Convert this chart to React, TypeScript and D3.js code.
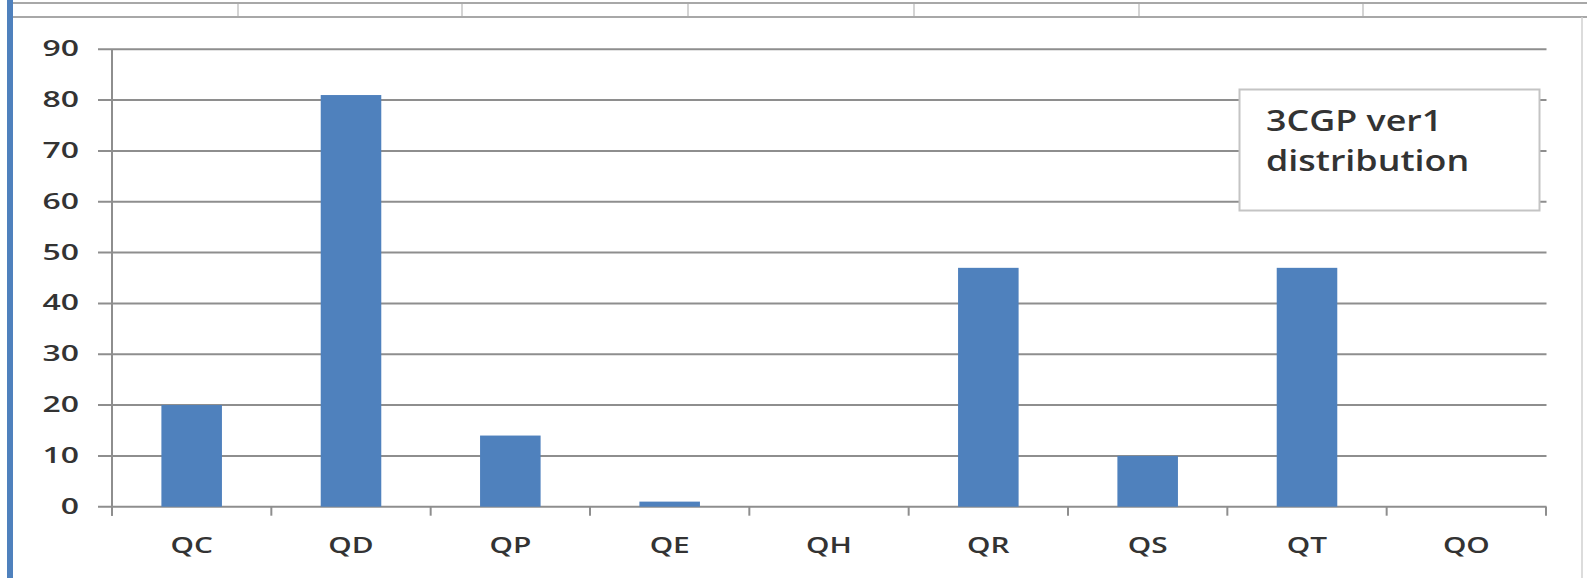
import React from "react";
import * as d3 from "d3";

const categories = ["QC", "QD", "QP", "QE", "QH", "QR", "QS", "QT", "QO"];
const values = [20, 81, 14, 1, 0, 47, 10, 47, 0];
const yTicks = [0, 10, 20, 30, 40, 50, 60, 70, 80, 90];
const legendLines = ["3CGP ver1", "distribution"];
const topDividers = [238, 462, 688, 914, 1139, 1363];

const W = 1587;
const H = 578;
const BLUE = "#4f81bd";
const GRID = "#8e8e8e";
const TEXT = "#333333";
const FONT = "'Open Sans', 'DejaVu Sans', sans-serif";

export default function App() {
  const x = d3
    .scaleBand<string>()
    .domain(categories)
    .range([112, 1546])
    .paddingInner(0.62)
    .paddingOuter(0.31);
  const step = x.step();
  const y = d3.scaleLinear().domain([0, 90]).range([506.7, 49.3]);

  const boundaries = d3.range(categories.length + 1).map((i) => 112 + i * step);

  return (
    <svg
      width={W}
      height={H}
      style={{ position: "absolute", left: 0, top: 0, background: "#fff" }}
    >
      {/* top strip of table cells */}
      <line x1={13} x2={W} y1={3} y2={3} stroke="#a8a8a8" strokeWidth={2} />
      <line x1={13} x2={W} y1={17} y2={17} stroke="#a8a8a8" strokeWidth={2} />
      {topDividers.map((dx) => (
        <line key={dx} x1={dx} x2={dx} y1={4} y2={16} stroke="#d4d4d4" strokeWidth={2} />
      ))}
      {/* right frame */}
      <line x1={1582} x2={1582} y1={17} y2={H} stroke="#d0d0d0" strokeWidth={1.5} />
      {/* left blue border */}
      <rect x={7} y={0} width={6} height={H} fill={BLUE} />

      {/* gridlines */}
      {yTicks.map((t) => (
        <line
          key={t}
          x1={98}
          x2={1546.5}
          y1={y(t)}
          y2={y(t)}
          stroke={GRID}
          strokeWidth={2}
        />
      ))}
      {/* y axis line */}
      <line x1={112} x2={112} y1={y(90)} y2={y(0) + 9} stroke={GRID} strokeWidth={2} />
      {/* x axis ticks */}
      {boundaries.map((bx, i) => (
        <line key={i} x1={bx} x2={bx} y1={y(0)} y2={y(0) + 9} stroke={GRID} strokeWidth={2} />
      ))}

      {/* bars */}
      {categories.map((c, i) =>
        values[i] > 0 ? (
          <rect
            key={c}
            x={x(c)}
            y={y(values[i])}
            width={x.bandwidth()}
            height={y(0) - y(values[i])}
            fill={BLUE}
          />
        ) : null
      )}

      {/* y tick labels */}
      {yTicks.map((t) => (
        <text
          key={t}
          transform={`translate(79, ${y(t) + 7}) scale(1.52, 1)`}
          textAnchor="end"
          fontFamily={FONT}
          fontWeight={600}
          fontSize={21}
          fill={TEXT}
        >
          {t}
        </text>
      ))}

      {/* x labels */}
      {categories.map((c) => (
        <text
          key={c}
          transform={`translate(${(x(c) as number) + x.bandwidth() / 2}, ${553}) scale(1.42, 1)`}
          textAnchor="middle"
          fontFamily={FONT}
          fontWeight={600}
          fontSize={21}
          fill={TEXT}
        >
          {c}
        </text>
      ))}

      {/* legend box */}
      <rect x={1239.5} y={89.5} width={300} height={121} fill="#fff" stroke="#c4c4c4" strokeWidth={2} />
      {legendLines.map((l, i) => (
        <text
          key={l}
          transform={`translate(1266, ${130.5 + i * 40}) scale(1.28, 1)`}
          fontFamily={FONT}
          fontWeight={600}
          fontSize={28}
          fill={TEXT}
        >
          {l}
        </text>
      ))}
    </svg>
  );
}
